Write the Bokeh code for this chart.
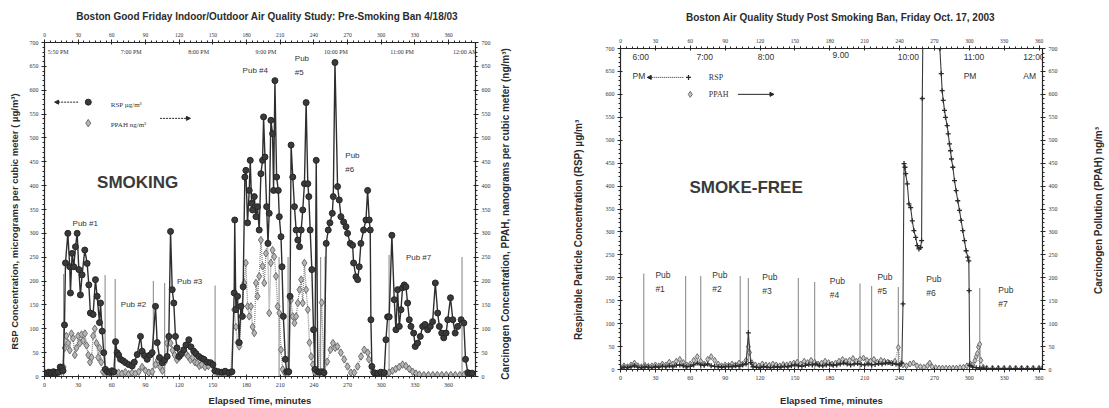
import math
from bokeh.plotting import figure
from bokeh.models import Range1d, LinearAxis, SingleIntervalTicker, Arrow, NormalHead
from bokeh.layouts import row, column
from bokeh.embed import file_html
from bokeh.resources import INLINE
from bokeh.core.properties import value

# ---------------- DATA ----------------
# Pre-smoking-ban (4/18/03): elapsed minutes, RSP ug/m3
rsp_pre = [(0,8),(2,6),(4,9),(6,7),(8,10),(10,8),(12,9),(14,20),(15.5,18),(16.5,12),
 (17.8,108),(18.7,238),(20.8,300),(22.5,230),(23.1,175),(24.6,258),(26.1,230),(27.6,272),
 (29.1,300),(30.6,224),(32,171),(33.5,213),(35.9,265),(38,237),(39.5,192),(40.9,133),
 (43.3,130),(45.4,203),(46.9,168),(49,113),(49.9,154),(51.4,95),(52.8,50),(54.3,15),
 (56,10),(58,9),(60,12),(61.8,10),(63.3,73),(64.7,50),(66,45),(67.7,36),(70,33),(72.2,29),
 (75,25),(78.1,22),(80,30),(82.6,46),(85.5,84),(87,53),(89,44),(91.5,36),(94,45),(95.9,50),
 (98.9,147),(100.4,71),(102.5,40),(104.9,29),(107,35),(109.3,42),(110.8,84),(112.3,304),
 (113.8,182),(115.2,154),(116.7,84),(118,60),(119.7,42),(122,48),(124.1,56),(126,66),
 (128.6,77),(130.5,62),(133,53),(135,48),(137.5,42),(140,38),(142,36),(145,30),(147.9,29),
 (150,25),(152,12),(155,10),(158,9),(161,11),(164,8),(167,10),
 (169,175),(169.5,328),(170.5,140),(172,168),(173.5,71),(175,147),(176.3,126),(177,188),
 (178.5,418),(179.4,432),(180.9,322),(182.4,390),(183.3,453),(184.5,363),(185.4,349),
 (186.9,377),(188.4,335),(189.8,356),(191.3,307),(192.8,425),(194.3,453),(195.2,544),
 (196.4,460),(197.9,356),(199.1,279),(200.2,342),(201.7,537),(203.2,509),(204.1,390),
 (205.3,620),(206.8,418),(208.3,390),(209.2,335),(210.7,293),(211.6,230),(212.8,126),
 (214.6,36),(215.8,10),(217.6,10),(218.8,168),(219.7,485),(221.2,418),(222.7,356),
 (224.2,307),(225.7,286),(227.2,272),(228.7,307),(230.1,349),(231.6,404),(233.1,574),
 (234.6,404),(235.5,377),(236.7,307),(238.2,224),(239.7,98),(240.9,15),(242.1,453),
 (243.5,10),(245,9),(247,10),(249,8),(251,279),(252.8,307),(254.3,322),(256.4,342),
 (257.3,377),(258.8,658),
 (261.1,398),(262.6,370),(264.1,335),(266.5,324),(268.6,314),(270,300),(272.4,279),
 (274.5,275),(275.4,238),(277.5,209),(279,203),(280.4,230),(281.9,279),(284.3,307),
 (286.4,328),(287.9,390),(289.3,328),(290.2,307),(290.8,119),(291.7,21),(293.8,8),
 (296.8,7),(299.7,9),(302.7,8),(304.2,77),(305.7,125),(307.1,125),(309.5,296),(311.6,161),
 (313.1,98),(314.6,182),(316.1,105),(317.6,140),(319,186),(320.5,192),(322,188),(323.5,154),
 (325,119),(326.5,105),(328.9,91),(330.3,63),(332.4,70),(334.8,84),(336.9,105),(339,109),
 (341.4,98),(343.7,105),(345.8,115),(348.2,196),(350.3,133),(351.8,105),(353.9,91),
 (355.7,81),(357.8,91),(359.3,119),(361.7,165),(363.8,119),(365.9,91),(368.2,105),
 (371.2,119),(373.6,112),(375.1,36),(377.2,8),(379,6),(381,7)]

# Pre-smoking-ban: elapsed minutes, PPAH ng/m3
ppah_pre = [(0,6),(3,8),(6,5),(9,8),(12,6),(15,10),(17,20),(18,60),(19.5,85),(21,70),
 (22.5,55),(24,90),(25.5,80),(27,45),(28.5,60),(30,85),(31.5,70),(33,88),(34.5,75),(36,90),
 (37.5,65),(39,45),(40.5,30),(42,40),(43.3,85),(44.8,100),(46.3,70),(47.8,40),(49,60),
 (50.5,30),(52,10),(54,6),(57,5),(60,7),(63,5),(66,8),(69,6),(72,9),(75,5),(78,8),(81,6),
 (84,10),(87,20),(90,12),(93,8),(96,10),(99,25),(101,35),(103,20),(105,12),(107,30),(109,70),
 (110.8,84),(112.3,70),(114,55),(116,45),(118,35),(120,40),(122,45),(124,52),(126,48),
 (128,42),(130,35),(132,40),(134,30),(136,28),(138,22),(140,25),(143,20),(146,22),(149,25),
 (151,12),(154,8),(157,6),(160,8),(163,5),(166,7),
 (169,140),(170.5,104),(172,71),(173.5,63),(175.8,147),(178,196),(179.4,238),(181,147),
 (182.4,126),(183.9,147),(185.4,104),(186.9,91),(188.4,196),(189.8,168),(191.3,210),
 (192.8,286),(194.3,231),(195.8,196),(197.3,258),(198.8,280),(200.2,133),(201.7,238),
 (203.2,265),(204.7,251),(206.2,210),(207.7,147),(209.2,133),(210.7,56),(212.2,15),(214,8),
 (216,6),(218,10),(219.5,160),(221.2,126),(222.7,112),(224.2,126),(225.7,154),(227.2,182),
 (228.7,203),(230.1,154),(231.6,238),(233.1,182),(234.6,140),(236.1,71),(237.6,42),
 (239.1,25),(241,8),(244,6),(247,155),(249,8),(251.9,31),(254.8,56),(257,70),(259,60),
 (261,63),(264,50),(267,36),(270,21),(273,8),(276,8),(279,21),(282,42),(284.9,56),(288,50),
 (289,36),(292.3,10),(295,5),(298,4),(301,5),(304,6),(307,8),(310,12),(313,16),(316,20),
 (319,25),(322,22),(325,16),(328,10),(331,6),(334,4),(338,3),(342,3),(346,3),(350,3),
 (354,3),(358,3),(362,3),(366,3),(370,3),(374,4),(377,5),(380,4)]

# Post-smoking-ban (Oct. 17, 2003): elapsed minutes, RSP ug/m3
rsp_post = [(0,3),(3,5),(6,4),(9,6),(12,8),(15,5),(18,4),(21,6),(24,5),(27,4),(30,6),(33,5),
 (36,7),(39,6),(42,8),(45,6),(48,9),(51,10),(54,8),(57,6),(60,7),(63,10),(66,14),(69,10),
 (72,9),(75,12),(78,8),(81,7),(84,6),(87,5),(90,6),(93,7),(96,6),(99,8),(102,7),(105,10),
 (108,12),(110,80),(112,15),(114,6),(117,5),(120,4),(123,6),(126,5),(129,4),(132,5),(135,6),
 (138,5),(141,7),(144,6),(147,8),(150,10),(153,8),(156,7),(159,9),(162,11),(165,10),(168,12),
 (171,9),(174,8),(177,10),(180,11),(183,9),(186,10),(189,12),(192,14),(195,12),(198,10),
 (201,12),(204,13),(207,11),(210,10),(213,12),(216,10),(219,11),(222,13),(225,12),(228,14),
 (231,15),(234,13),(237,12),(240,10),(242,14),
 (243,143),(243.9,449),(244.7,441),(245.3,427),(246.7,405),(248.1,361),(249.6,353),
 (251,324),(252.4,303),(253.9,288),(255.3,270),(256.7,263),(258.1,266),(259,281),
 (259.6,591),(260.2,760),(273.5,760),(274.7,700),(275.9,645),(276.7,608),(277.6,587),
 (278.7,565),(279.6,550),(281,532),(281.9,514),(283,492),(283.9,477),(284.7,459),
 (285.9,441),(287.3,412),(288.7,390),(290.1,368),(291.6,347),(293,325),(294.4,303),
 (295.9,281),(297.3,259),(298.7,245),(299.6,237),(299.9,172),(300.4,9),(303,5),(306,4),
 (309,3),(312,3),(315,2),(320,2),(325,2),(330,2),(335,2),(340,2),(345,2),(350,2),(355,2),
 (360,2),(363,2)]

# Post-smoking-ban: elapsed minutes, PPAH ng/m3
ppah_post = [(0,5),(3,8),(6,6),(9,10),(12,14),(15,8),(18,6),(21,9),(24,7),(27,8),(30,10),
 (33,8),(36,12),(39,10),(42,16),(45,12),(48,18),(51,22),(54,15),(57,10),(60,12),(63,20),
 (66,28),(69,18),(72,12),(75,22),(78,28),(81,20),(84,12),(87,8),(90,10),(93,9),(96,12),
 (99,10),(102,14),(105,12),(108,20),(110,50),(111,37),(113,15),(116,10),(119,8),(122,12),
 (125,10),(128,9),(131,12),(134,10),(137,8),(140,11),(143,10),(146,12),(149,14),(152,16),
 (155,12),(158,18),(161,15),(164,20),(167,16),(170,12),(173,14),(176,18),(179,15),(182,12),
 (185,14),(188,18),(191,22),(194,18),(197,20),(200,24),(203,18),(206,22),(209,25),(212,20),
 (215,18),(218,22),(221,16),(224,20),(227,18),(230,16),(233,14),(236,18),(239,48),(241,12),
 (243,10),(246,8),(249,12),(252,14),(255,8),(258,6),(261,5),(264,8),(266,14),(268,6),(271,4),
 (274,3),(277,3),(280,3),(283,3),(286,3),(289,3),(292,4),(295,5),(298,8),(301,12),(303,10),
 (305,20),(306,28),(307,35),(308,49),(309,55),(310,20),(312,5),(315,3),(320,3),(325,3),
 (330,3),(335,3),(340,3),(345,3),(350,3),(355,3),(360,3),(363,3)]

# Pub boundaries: (minute, height of dotted marker line)
pubs_pre = [(17,215),(54,212),(63,205),(97,200),(107,195),(152,190),(209,250),(217,250),
            (246,250),(250,252),(307,255),(372,251)]
pubs_post = [(20,210),(56,205),(69,205),(103,205),(110,200),(153,200),(167,192),(206,188),
             (216,183),(239,180),(309,178)]

pub_names_pre = ["Pub #1", "Pub #2", "Pub #3", "Pub #4", "Pub\n#5", "Pub\n#6", "Pub #7"]
pub_names_post = ["Pub\n#1", "Pub\n#2", "Pub\n#3", "Pub\n#4", "Pub\n#5", "Pub\n#6", "Pub\n#7"]
clock_pre = ["5:50 PM", "7:00 PM", "8:00 PM", "9:00 PM", "10:00 PM", "11:00 PM", "12:00 AM"]
clock_post = ["6:00\nPM", "7:00", "8:00", "9.00", "10:00", "11:00\nPM", "12:00\nAM"]
titles = ["Boston Good Friday Indoor/Outdoor Air Quality Study:  Pre-Smoking Ban 4/18/03",
          "Boston Air Quality Study Post Smoking Ban, Friday Oct. 17, 2003"]
side_titles = ["RSP Concentration, micrograms per cubic meter ( \u00b5g/m\u00b3)",
               "Carcinogen Concentration,  PPAH, nanograms per cubic meter (ng/m\u00b3)",
               "Respirable Particle Concentration (RSP)  \u00b5g/m\u00b3",
               "Carcinogen Pollution (PPAH) ng/m\u00b3"]

# ---------------- STYLE HELPERS ----------------
SANS = "Liberation Sans"
SERIF = "Liberation Serif"
INK = "#262626"
HEAD_H = 26
BODY_H = 408 - HEAD_H


def xs(pairs):
    return [a for a, _ in pairs]


def ys(pairs):
    return [b for _, b in pairs]


def style_axis(ax, interval, minor, label="", size="9.5px", standoff=5):
    ax.ticker = SingleIntervalTicker(interval=interval, num_minor_ticks=minor)
    ax.axis_line_color = INK
    ax.axis_line_width = 1.2
    ax.major_tick_line_color = INK
    ax.minor_tick_line_color = INK
    ax.major_tick_in = 2
    ax.major_tick_out = 3
    ax.minor_tick_in = 0
    ax.minor_tick_out = 2
    ax.major_label_text_font = SERIF
    ax.major_label_text_font_size = "6px"
    ax.major_label_text_color = "#333333"
    ax.major_label_standoff = 3
    ax.axis_label = label
    ax.axis_label_text_font = SANS
    ax.axis_label_text_font_style = "bold"
    ax.axis_label_text_font_size = size
    ax.axis_label_text_color = "#2b2b2b"
    ax.axis_label_standoff = standoff


def bare_fig(width, height, xr, yr):
    """Axis-less figure used only to carry texts placed in page pixels."""
    f = figure(width=width, height=height, x_range=Range1d(*xr), y_range=Range1d(*yr),
               output_backend="svg", toolbar_location=None, min_border=0)
    f.axis.visible = False
    f.grid.visible = False
    f.outline_line_color = None
    f.background_fill_color = "white"
    f.border_fill_color = "white"
    return f


def side_text(f, x, y, text, size="9.5px"):
    f.text(x=[x], y=[y], text=[text], angle=math.pi / 2, text_font=value(SANS),
           text_font_style="bold", text_font_size=size, text_color="#2b2b2b",
           text_align="center", text_baseline="middle")


def make_fig(width, xmax, border):
    p = figure(width=width, height=BODY_H, x_range=Range1d(0, xmax), y_range=Range1d(0, 700),
               output_backend="svg", toolbar_location=None,
               min_border_left=border[0], min_border_right=border[1],
               min_border_top=border[2], min_border_bottom=border[3])
    p.extra_y_ranges = {"ppah": Range1d(0, 700)}
    p.xgrid.visible = False
    p.ygrid.visible = False
    p.outline_line_color = None
    p.background_fill_color = "white"
    p.border_fill_color = "white"
    return p


# ---------------- HEADER (titles) ----------------
head = bare_fig(1109, HEAD_H, (0, 1109), (HEAD_H, 0))
head.text(x=[268, 840], y=[16, 17], text=titles, text_font=value(SANS), text_font_style="bold",
          text_font_size="10px", text_color="#2b2b2b", text_align="center", text_baseline="middle")

# ---------------- LEFT PANEL (page x 25..495) ----------------
labL = bare_fig(25, BODY_H, (0, 25), (408, HEAD_H))
side_text(labL, 14, 221, side_titles[0])

p1 = make_fig(470, 384, (19, 20, 42 - HEAD_H, BODY_H - (377 - HEAD_H)))
style_axis(p1.xaxis[0], 30, 6, "Elapsed Time, minutes", "9.5px", 5)
style_axis(p1.yaxis[0], 50, 5)
top1 = LinearAxis()
style_axis(top1, 30, 6)
top1.major_label_text_font_size = "5.5px"
p1.add_layout(top1, "above")
r1 = LinearAxis(y_range_name="ppah")
style_axis(r1, 50, 5)
p1.add_layout(r1, "right")

p1.segment(x0=xs(pubs_pre), y0=0, x1=xs(pubs_pre), y1=ys(pubs_pre),
           line_color="#303030", line_width=1.2, line_dash="1 1")
p1.line(xs(ppah_pre), ys(ppah_pre), y_range_name="ppah", line_color="#8a8a8a", line_width=1.3, line_dash="1 1")
p1.scatter(xs(ppah_pre), ys(ppah_pre), y_range_name="ppah", marker="diamond", size=7.5,
           fill_color="#b5b5b5", line_color="#6e6e6e", line_width=1)
p1.line(xs(rsp_pre), ys(rsp_pre), line_color="#2e2e2e", line_width=1.4)
p1.scatter(xs(rsp_pre), ys(rsp_pre), marker="circle", size=6, fill_color="#3a3a3a", line_color="#262626")

p1.text(x=[83], y=[407], text=["SMOKING"], text_font=value(SANS), text_font_style="bold",
        text_font_size="17px", text_color="#3a3a3a", text_align="center", text_baseline="middle")
p1.text(x=[25, 68, 118, 176.5, 223, 268, 322], y=[320, 150, 200, 641, 652, 449, 249],
        text=pub_names_pre, text_font=value(SANS), text_font_size="8px", text_color="#333333",
        text_baseline="middle", text_line_height=1.5)
p1.text(x=[3, 68, 128, 188, 249, 308, 364], y=[681] * 7, text=clock_pre, text_font=value(SERIF),
        text_font_size="6px", text_color="#333333", text_baseline="middle")

# legend (drawn in data space)
p1.add_layout(Arrow(end=NormalHead(size=4, fill_color=INK, line_color=INK), x_start=30, y_start=575,
                    x_end=9, y_end=575, line_color=INK, line_width=1, line_dash="2 1"))
p1.add_layout(Arrow(end=NormalHead(size=4, fill_color=INK, line_color=INK), x_start=103, y_start=541,
                    x_end=130, y_end=541, line_color=INK, line_width=1, line_dash="2 1"))
p1.scatter([39], [575], marker="circle", size=6, fill_color="#3a3a3a", line_color="#262626")
p1.scatter([39], [531], marker="diamond", size=7.5, fill_color="#b5b5b5", line_color="#6e6e6e")
p1.text(x=[59, 59], y=[568, 527], text=["RSP \u00b5g/m\u00b3", "PPAH ng/m\u00b3"], text_font=value(SERIF),
        text_font_size="7px", text_color="#333333", text_baseline="middle")

# gap between panels (page x 495..590): right title of left panel, left title of right panel
labM = bare_fig(95, BODY_H, (495, 590), (408, HEAD_H))
side_text(labM, 505, 212, side_titles[1], size="10px")
side_text(labM, 578, 228, side_titles[2], size="10px")

# ---------------- RIGHT PANEL (page x 590..1085) ----------------
p2 = make_fig(495, 363, (30, 43, 48 - HEAD_H, BODY_H - (369 - HEAD_H)))
style_axis(p2.xaxis[0], 30, 6, "Elapsed Time, minutes", "9.5px", 12)
style_axis(p2.yaxis[0], 50, 5)
top2 = LinearAxis()
style_axis(top2, 30, 6)
top2.major_label_text_font_size = "5.5px"
p2.add_layout(top2, "above")
r2 = LinearAxis(y_range_name="ppah")
style_axis(r2, 50, 5)
p2.add_layout(r2, "right")

p2.segment(x0=xs(pubs_post), y0=0, x1=xs(pubs_post), y1=ys(pubs_post),
           line_color="#303030", line_width=1.2, line_dash="1 1")
p2.line(xs(ppah_post), ys(ppah_post), y_range_name="ppah", line_color="#8a8a8a", line_width=1, line_dash="1 1")
p2.scatter(xs(ppah_post), ys(ppah_post), y_range_name="ppah", marker="diamond", size=6,
           fill_color="#c8c8c8", line_color="#6e6e6e", line_width=1)
p2.line(xs(rsp_post), ys(rsp_post), line_color="#3a3a3a", line_width=1.1)
p2.scatter(xs(rsp_post), ys(rsp_post), marker="cross", size=5, line_color="#2a2a2a", line_width=1.3)

p2.text(x=[108], y=[397], text=["SMOKE-FREE"], text_font=value(SANS), text_font_style="bold",
        text_font_size="17px", text_color="#3a3a3a", text_align="center", text_baseline="middle")
p2.text(x=[30, 79, 122, 180, 221, 263, 325], y=[190, 190, 187, 177, 187, 183, 159],
        text=pub_names_post, text_font=value(SANS), text_font_size="8.5px", text_color="#333333",
        text_baseline="middle", text_line_height=1.4)
p2.text(x=[10.3, 65.4, 118, 182.4, 238.4, 295.2, 346.5], y=[693] * 7, text=clock_post,
        text_font=value(SANS), text_font_size="8.5px", text_color="#333333",
        text_baseline="top", text_line_height=1.9)

p2.add_layout(Arrow(end=NormalHead(size=4, fill_color=INK, line_color=INK), x_start=54, y_start=637,
                    x_end=23, y_end=637, line_color=INK, line_width=1, line_dash="1 1"))
p2.add_layout(Arrow(end=NormalHead(size=4, fill_color=INK, line_color=INK), x_start=101, y_start=600,
                    x_end=132, y_end=600, line_color=INK, line_width=1))
p2.scatter([58.5], [637], marker="cross", size=5, line_color="#2a2a2a", line_width=1.3)
p2.scatter([60], [600], marker="diamond", size=6, fill_color="#c8c8c8", line_color="#6e6e6e")
p2.text(x=[76, 76], y=[637, 600], text=["RSP", "PPAH"], text_font=value(SERIF),
        text_font_size="8px", text_color="#333333", text_baseline="middle")

# right-hand axis title of the right panel (page x 1085..1109)
labR = bare_fig(24, BODY_H, (1085, 1109), (408, HEAD_H))
side_text(labR, 1098, 210, side_titles[3], size="10px")

layout = column(head, row(column(labL), column(p1), column(labM), column(p2), column(labR)))
open("out.html", "w").write(file_html(layout, INLINE))
